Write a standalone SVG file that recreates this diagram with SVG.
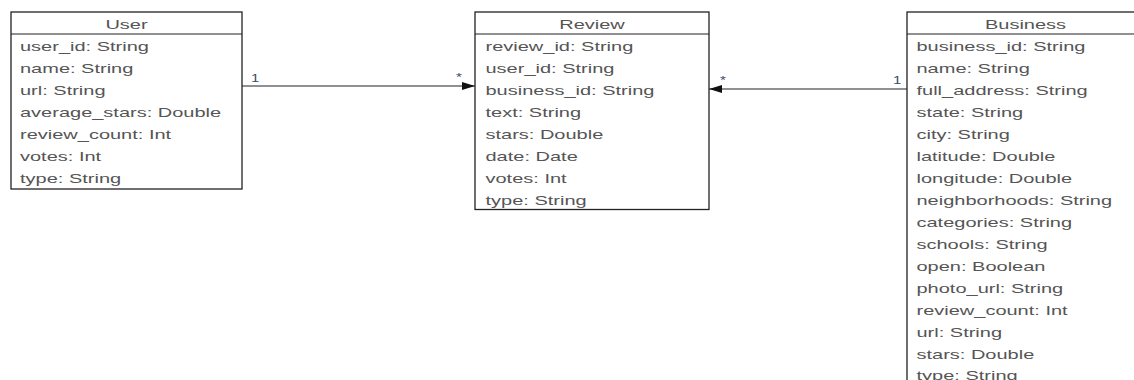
<svg xmlns="http://www.w3.org/2000/svg" width="1134" height="380" viewBox="0 0 1134 380">
<style>
.box{fill:#fff;stroke:#222;stroke-width:1.3}
.div{stroke:#222;stroke-width:1.2}
.t{font-family:"Liberation Sans",Arial,sans-serif;font-size:12px;fill:#555}
.h{text-anchor:middle}
.lbl{font-family:"Liberation Sans",Arial,sans-serif;font-size:10px;fill:#3a4a6a}
.edge{stroke:#222;stroke-width:1.1;fill:none}
</style>
<defs>
<marker id="arr" viewBox="0 0 13 8" refX="13" refY="4" markerWidth="13" markerHeight="8" markerUnits="userSpaceOnUse" orient="auto">
<path d="M0,0 L13,4 L0,8 Z" fill="#111"/>
</marker>
</defs>
<rect width="1134" height="380" fill="#fff"/>
<g id="connectors">
<line class="edge" x1="242" y1="86" x2="475" y2="86" marker-end="url(#arr)"/>
<line class="edge" x1="907" y1="89" x2="709" y2="89" marker-end="url(#arr)"/>
<g transform="translate(251,0) scale(1.5,1)"><text class="lbl" x="0" y="82">1</text></g>
<g transform="translate(456,0) scale(1.5,1)"><text class="lbl" x="0" y="81">*</text></g>
<g transform="translate(720,0) scale(1.5,1)"><text class="lbl" x="0" y="84">*</text></g>
<g transform="translate(893,0) scale(1.5,1)"><text class="lbl" x="0" y="84">1</text></g>
</g>
<g id="user">
<rect class="box" x="11" y="12" width="231" height="177"/>
<line class="div" x1="11" y1="34" x2="242" y2="34"/>
<g transform="translate(126.5,0) scale(1.667,1)"><text class="t h" x="0" y="29.5">User</text></g>
<g transform="translate(20,0) scale(1.667,1)">
<text class="t" x="0" y="51">user_id: String</text>
<text class="t" x="0" y="73">name: String</text>
<text class="t" x="0" y="95">url: String</text>
<text class="t" x="0" y="117">average_stars: Double</text>
<text class="t" x="0" y="139">review_count: Int</text>
<text class="t" x="0" y="161">votes: Int</text>
<text class="t" x="0" y="183">type: String</text>
</g>
</g>
<g id="review">
<rect class="box" x="475" y="12" width="234" height="197.5"/>
<line class="div" x1="475" y1="34" x2="709" y2="34"/>
<g transform="translate(592,0) scale(1.667,1)"><text class="t h" x="0" y="29.5">Review</text></g>
<g transform="translate(485.5,0) scale(1.667,1)">
<text class="t" x="0" y="51">review_id: String</text>
<text class="t" x="0" y="73">user_id: String</text>
<text class="t" x="0" y="95">business_id: String</text>
<text class="t" x="0" y="117">text: String</text>
<text class="t" x="0" y="139">stars: Double</text>
<text class="t" x="0" y="161">date: Date</text>
<text class="t" x="0" y="183">votes: Int</text>
<text class="t" x="0" y="205">type: String</text>
</g>
</g>
<g id="business">
<rect class="box" x="907" y="12" width="237" height="400"/>
<line class="div" x1="907" y1="34" x2="1144" y2="34"/>
<g transform="translate(1025.5,0) scale(1.667,1)"><text class="t h" x="0" y="29.5">Business</text></g>
<g transform="translate(916.5,0) scale(1.667,1)">
<text class="t" x="0" y="51">business_id: String</text>
<text class="t" x="0" y="73">name: String</text>
<text class="t" x="0" y="95">full_address: String</text>
<text class="t" x="0" y="117">state: String</text>
<text class="t" x="0" y="139">city: String</text>
<text class="t" x="0" y="161">latitude: Double</text>
<text class="t" x="0" y="183">longitude: Double</text>
<text class="t" x="0" y="205">neighborhoods: String</text>
<text class="t" x="0" y="227">categories: String</text>
<text class="t" x="0" y="249">schools: String</text>
<text class="t" x="0" y="271">open: Boolean</text>
<text class="t" x="0" y="293">photo_url: String</text>
<text class="t" x="0" y="315">review_count: Int</text>
<text class="t" x="0" y="337">url: String</text>
<text class="t" x="0" y="359">stars: Double</text>
<text class="t" x="0" y="380">type: String</text>
</g>
</g>
</svg>
